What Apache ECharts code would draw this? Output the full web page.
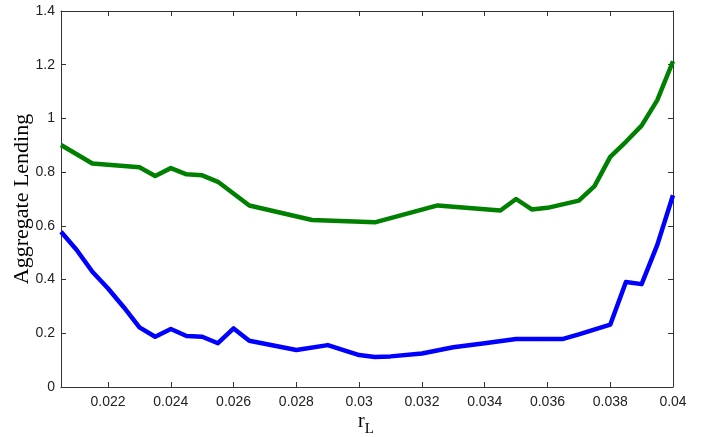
<!DOCTYPE html>
<html>
<head>
<meta charset="utf-8">
<script src="https://cdn.jsdelivr.net/npm/echarts@6/dist/echarts.min.js"></script>
<style>
html,body{margin:0;padding:0;background:#fff;}
#chart{width:702px;height:437px;}
</style>
</head>
<body>
<div id="chart"></div>
<script>
// x-axis tick values (r_L)
var xTicks = [0.022, 0.024, 0.026, 0.028, 0.03, 0.032, 0.034, 0.036, 0.038, 0.04];

// Green series
var rGreen = [0.0205, 0.0215, 0.023, 0.0235, 0.024, 0.0245, 0.025, 0.0255, 0.0265, 0.0285, 0.0305, 0.0325, 0.033, 0.0345, 0.035, 0.0355, 0.036, 0.037, 0.0375, 0.038, 0.0385, 0.039, 0.0395, 0.04];
var lendGreen = [0.901, 0.832, 0.818, 0.786, 0.815, 0.792, 0.788, 0.764, 0.676, 0.622, 0.613, 0.676, 0.671, 0.657, 0.700, 0.661, 0.667, 0.694, 0.748, 0.857, 0.913, 0.973, 1.068, 1.213];

// Blue series
var rBlue = [0.0205, 0.021, 0.0215, 0.022, 0.0225, 0.023, 0.0235, 0.024, 0.0245, 0.025, 0.0255, 0.026, 0.0265, 0.028, 0.029, 0.030, 0.0305, 0.031, 0.032, 0.033, 0.034, 0.035, 0.0365, 0.037, 0.038, 0.0385, 0.039, 0.0395, 0.04];
var lendBlue = [0.578, 0.510, 0.429, 0.367, 0.297, 0.222, 0.187, 0.216, 0.190, 0.187, 0.163, 0.218, 0.172, 0.138, 0.156, 0.119, 0.112, 0.114, 0.125, 0.148, 0.163, 0.179, 0.179, 0.196, 0.232, 0.391, 0.383, 0.529, 0.714];

function pairs(xs, ys){ return xs.map(function(x,i){ return [x, ys[i]]; }); }

var axisCol = '#333';
var labelFont = {fontFamily:'Liberation Sans', fontSize:14, color:'#222'};

var chart = echarts.init(document.getElementById('chart'), null, {renderer:'canvas'});
chart.setOption({
  animation:false,
  backgroundColor:'#fff',
  grid:{left:61, right:29, top:11, bottom:50, containLabel:false},
  xAxis:[{
    type:'value', min:0.0205, max:0.04, position:'bottom',
    axisLine:{show:true, onZero:false, lineStyle:{color:axisCol, width:1}},
    axisTick:{show:true, inside:true, length:5, customValues:xTicks, lineStyle:{color:axisCol}},
    axisLabel:Object.assign({show:true, margin:8, customValues:xTicks, showMaxLabel:true, showMinLabel:true, formatter:function(v){return String(+v.toFixed(4));}}, labelFont),
    splitLine:{show:false}
  },{
    type:'value', min:0.0205, max:0.04, position:'top',
    axisLine:{show:true, onZero:false, lineStyle:{color:axisCol, width:1}},
    axisTick:{show:true, inside:true, length:5, customValues:xTicks, lineStyle:{color:axisCol}},
    axisLabel:{show:false},
    splitLine:{show:false}
  }],
  yAxis:[{
    type:'value', min:0, max:1.4, interval:0.2, position:'left',
    axisLine:{show:true, onZero:false, lineStyle:{color:axisCol, width:1}},
    axisTick:{show:true, inside:true, length:5, lineStyle:{color:axisCol}},
    axisLabel:Object.assign({show:true, margin:6, formatter:function(v){return String(+v.toFixed(2));}}, labelFont),
    splitLine:{show:false}
  },{
    type:'value', min:0, max:1.4, interval:0.2, position:'right',
    axisLine:{show:true, onZero:false, lineStyle:{color:axisCol, width:1}},
    axisTick:{show:true, inside:true, length:5, lineStyle:{color:axisCol}},
    axisLabel:{show:false},
    splitLine:{show:false}
  }],
  series:[{
    type:'line', xAxisIndex:0, yAxisIndex:0, data:pairs(rGreen, lendGreen),
    showSymbol:false, symbol:'none', clip:true,
    lineStyle:{color:'#008000', width:4.5, join:'round'}
  },{
    type:'line', xAxisIndex:0, yAxisIndex:0, data:pairs(rBlue, lendBlue),
    showSymbol:false, symbol:'none', clip:true,
    lineStyle:{color:'#0000ff', width:4.5, join:'round'}
  }],
  graphic:[{
    type:'text', x:22, y:199, rotation:Math.PI/2,
    style:{text:'Aggregate Lending', fontFamily:'Liberation Serif', fontSize:22, fill:'#000', align:'center', verticalAlign:'middle'}
  },{
    type:'text', x:366, y:424,
    style:{text:'{r|r}{s|L}', align:'center', verticalAlign:'middle',
      rich:{r:{fontFamily:'Liberation Serif', fontSize:20, fill:'#000', verticalAlign:'top'},
            s:{fontFamily:'Liberation Serif', fontSize:15, fill:'#000', padding:[10,0,0,0]}}}
  }]
});
</script>
</body>
</html>
